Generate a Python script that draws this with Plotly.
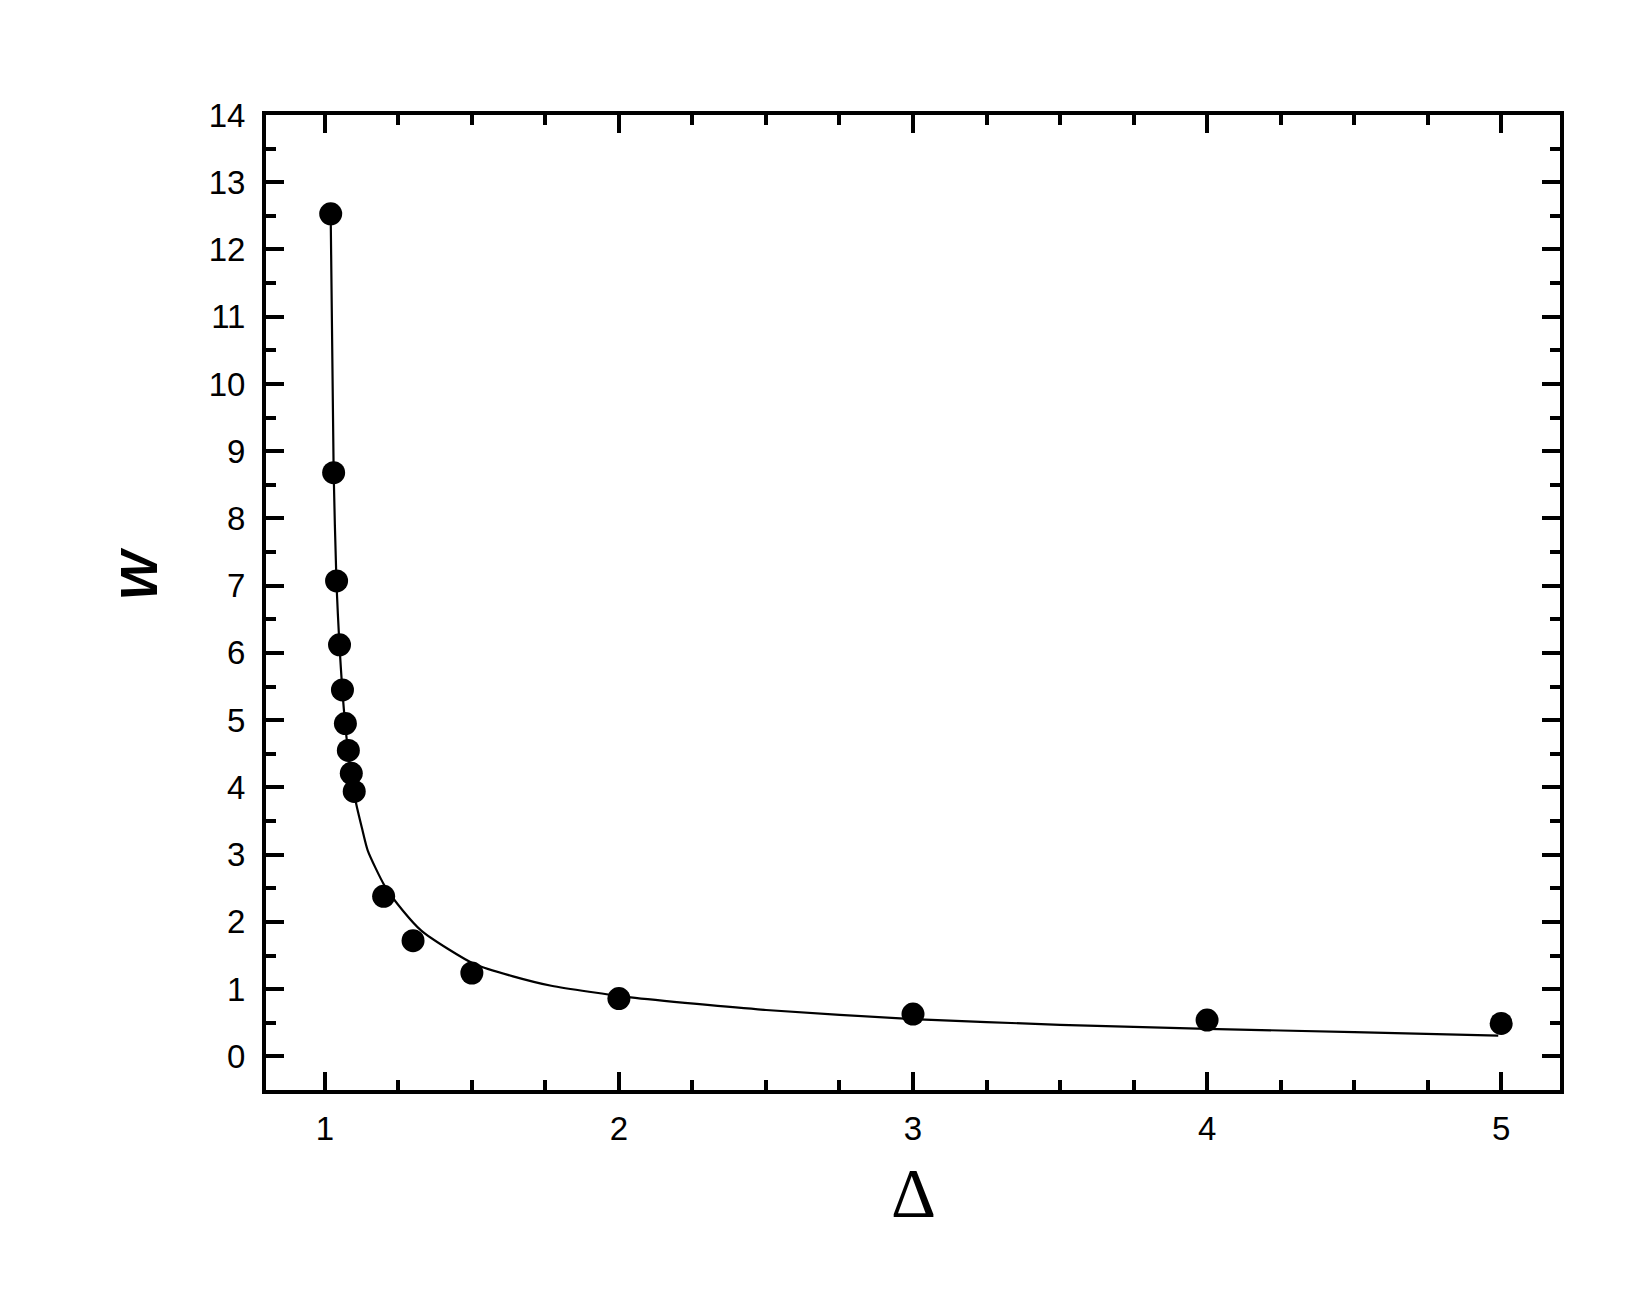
import plotly.graph_objects as go

# Measured data points
delta_pts = [1.02, 1.03, 1.04, 1.05, 1.06, 1.07, 1.08, 1.09, 1.10, 1.20, 1.30, 1.50, 2.0, 3.0, 4.0, 5.0]
w_pts = [12.53, 8.68, 7.07, 6.12, 5.45, 4.95, 4.55, 4.21, 3.94, 2.38, 1.72, 1.24, 0.86, 0.63, 0.54, 0.49]

# Fitted curve
delta_fit = [1.02, 1.03, 1.04, 1.05, 1.06, 1.07, 1.08, 1.09, 1.10, 1.107, 1.126, 1.146, 1.203, 1.265, 1.328,
             1.418, 1.51, 1.64, 1.77, 2.04, 2.5, 3.0, 3.5, 4.0, 4.5, 4.99]
w_fit = [12.5, 8.7, 7.0, 6.1, 5.42, 4.9, 4.5, 4.18, 3.93, 3.75, 3.40, 3.06, 2.54, 2.17, 1.87,
         1.60, 1.37, 1.19, 1.05, 0.877, 0.69, 0.555, 0.47, 0.41, 0.36, 0.31]

x_ticks = [1, 2, 3, 4, 5]
y_ticks = list(range(0, 15))

fig = go.Figure()
fig.add_trace(go.Scatter(x=delta_fit, y=w_fit, mode="lines",
                         line=dict(color="black", width=2.2, shape="spline", smoothing=0.6),
                         showlegend=False, hoverinfo="skip"))
fig.add_trace(go.Scatter(x=delta_pts, y=w_pts, mode="markers",
                         marker=dict(color="black", size=23, line=dict(width=0)),
                         showlegend=False))

axis_common = dict(
    showgrid=False, zeroline=False,
    showline=True, linecolor="black", linewidth=4,
    mirror="ticks", ticks="inside", ticklen=18, tickwidth=4, tickcolor="black",
    tickfont=dict(family="Liberation Sans, Arial, sans-serif", size=33, color="black"),
)

fig.update_xaxes(range=[0.8, 5.2], tickvals=x_ticks, ticktext=[str(v) for v in x_ticks],
                 ticklabelstandoff=6,
                 minor=dict(dtick=0.25, tick0=0.75, ticks="inside", ticklen=10, tickwidth=4, tickcolor="black"),
                 **axis_common)
fig.update_yaxes(range=[-0.5, 14], tickvals=y_ticks, ticktext=[str(v) for v in y_ticks],
                 ticklabelstandoff=10,
                 minor=dict(dtick=0.5, tick0=0.5, ticks="inside", ticklen=10, tickwidth=4, tickcolor="black"),
                 **axis_common)

fig.update_layout(
    width=1635, height=1306,
    margin=dict(l=258, r=83, t=107, b=224),
    paper_bgcolor="white", plot_bgcolor="white",
    annotations=[
        dict(text="<b><i>W</i></b>", xref="paper", yref="paper", x=-0.098, y=0.529,
             showarrow=False, textangle=-90, xanchor="center", yanchor="middle",
             font=dict(family="Liberation Sans, Arial, sans-serif", size=52, color="black")),
        dict(text="Δ", xref="paper", yref="paper", x=0.5, y=-0.106,
             showarrow=False, xanchor="center", yanchor="middle",
             font=dict(family="Liberation Serif, Times New Roman, serif", size=70, color="black")),
    ],
)

fig.write_html("out.html")
